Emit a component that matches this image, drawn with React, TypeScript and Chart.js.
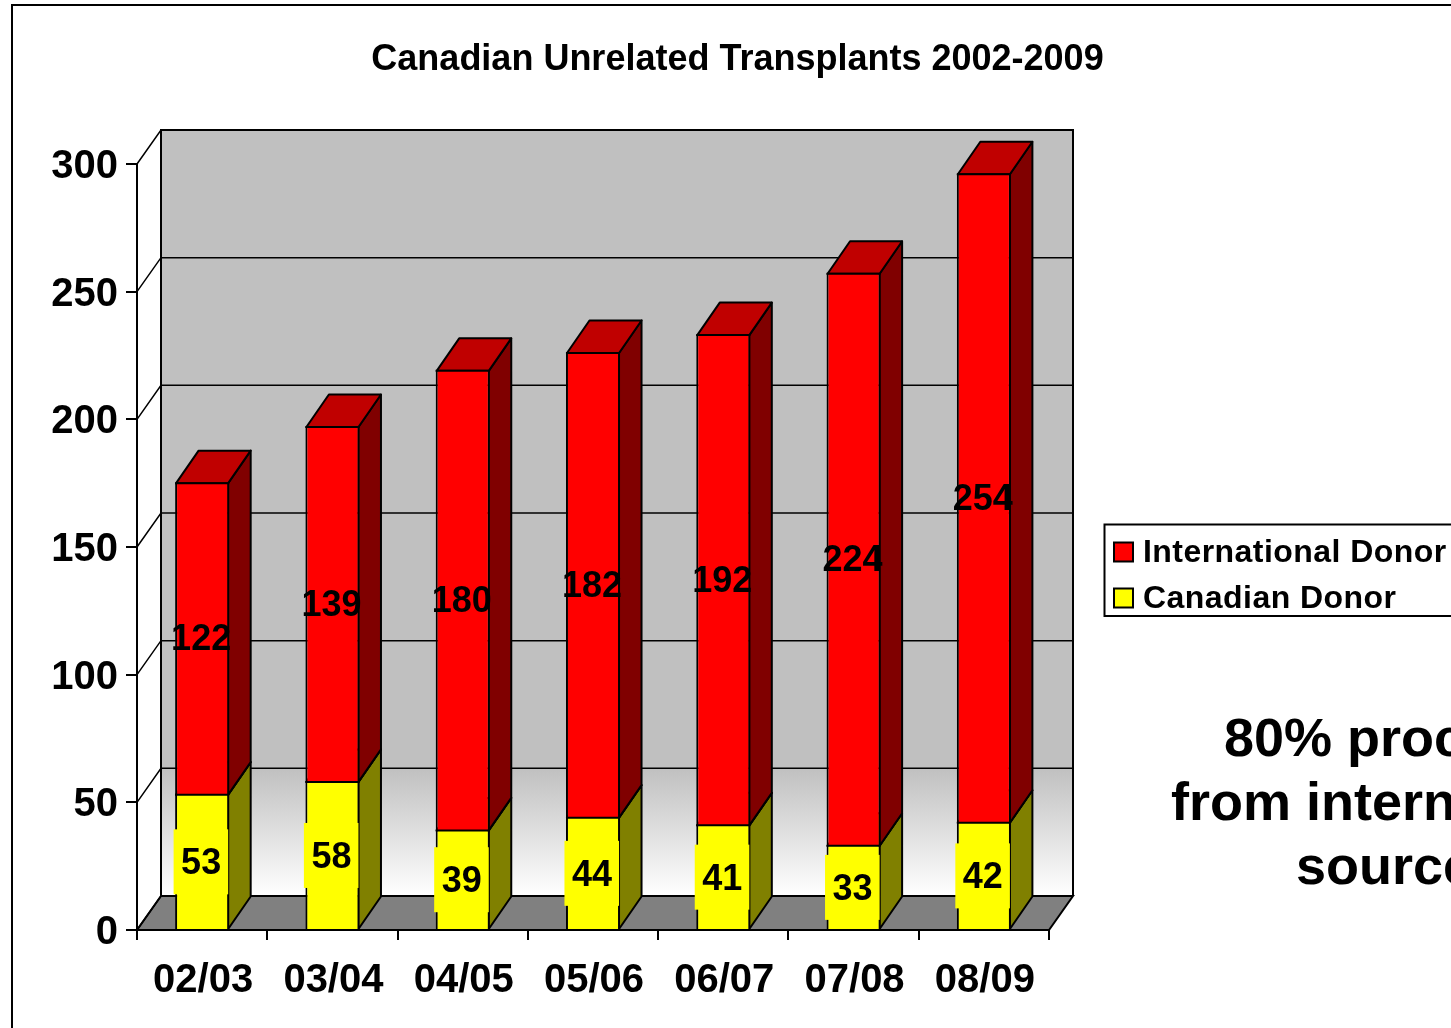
import React, { useEffect, useRef } from "react";
import { Chart, registerables } from "chart.js";

Chart.register(...registerables);

const TITLE = "Canadian Unrelated Transplants 2002-2009";
const seasons = ["02/03", "03/04", "04/05", "05/06", "06/07", "07/08", "08/09"];
const canadianDonor = [53, 58, 39, 44, 41, 33, 42];
const internationalDonor = [122, 139, 180, 182, 192, 224, 254];
const yTicks = { min: 0, max: 300, step: 50 };
const noteLines = [
  { text: "80% proc", x: 1224, y: 741 },
  { text: "from intern", x: 1171, y: 805 },
  { text: "source", x: 1296, y: 869 },
];

const FONT = "'Liberation Sans', Arial, sans-serif";
const DEPTH_X = 24;
const DEPTH_Y = 34;
const BAR_DEPTH_X = 22.5;
const BAR_DEPTH_Y = 32.5;
const BLACK = "#000000";

const shades: Record<string, { front: string; side: string; top: string }> = {
  red: { front: "#FF0000", side: "#800000", top: "#C00000" },
  yellow: { front: "#FFFF00", side: "#808000", top: "#C0C000" },
};

function poly(ctx: CanvasRenderingContext2D, pts: number[][], fill: string | CanvasGradient | null, stroke = true, lw = 2) {
  ctx.beginPath();
  pts.forEach((p, i) => (i ? ctx.lineTo(p[0], p[1]) : ctx.moveTo(p[0], p[1])));
  ctx.closePath();
  if (fill) {
    ctx.fillStyle = fill as any;
    ctx.fill();
  }
  if (stroke) {
    ctx.strokeStyle = BLACK;
    ctx.lineWidth = lw;
    ctx.stroke();
  }
}

const scene3d = {
  id: "scene3d",
  beforeLayout(chart: any) {
    const legend = chart.legend;
    if (legend && !legend.__patched) {
      legend.__patched = true;
      const fit = legend.fit;
      legend.fit = function () {
        fit.call(this);
        this.width = 402;
      };
      const draw = legend.draw;
      legend.draw = function () {
        const ctx = chart.ctx;
        const ft = ctx.fillText;
        ctx.letterSpacing = "0.45px";
        ctx.fillText = (t: string, x: number, y: number, m?: number) =>
          m === undefined ? ft.call(ctx, t, x - 6, y + 1) : ft.call(ctx, t, x - 6, y + 1, m);
        draw.call(this);
        delete ctx.fillText;
        ctx.letterSpacing = "0px";
      };
    }
  },
  afterLayout(chart: any) {
    chart.legend.left = 1100;
    chart.legend.top = 522;
    chart.scales.y.getLabelItems(chart.chartArea).forEach((it: any) => {
      it.options.translation[1] += 3;
    });
    chart.scales.x.getLabelItems(chart.chartArea).forEach((it: any) => {
      it.options.translation[0] += 1;
    });
  },
  beforeDraw(chart: any) {
    const { ctx, chartArea: a, scales } = chart;
    const W = chart.width;
    const H = chart.height;
    ctx.save();
    ctx.fillStyle = "#FFFFFF";
    ctx.fillRect(0, 0, W, H);

    // Outer frame, running off the right and bottom edges
    ctx.strokeStyle = BLACK;
    ctx.lineWidth = 2;
    ctx.beginPath();
    ctx.moveTo(12, H + 2);
    ctx.lineTo(12, 5);
    ctx.lineTo(W + 2, 5);
    ctx.stroke();

    // Legend frame
    ctx.beginPath();
    ctx.moveTo(W + 2, 524.5);
    ctx.lineTo(1104.5, 524.5);
    ctx.lineTo(1104.5, 616);
    ctx.lineTo(W + 2, 616);
    ctx.stroke();

    const y = scales.y;
    const backL = a.left + DEPTH_X;
    const backR = a.right + DEPTH_X;
    const backT = a.top - DEPTH_Y;
    const backB = a.bottom - DEPTH_Y;

    // Back wall
    const firstStep = y.getPixelForValue(yTicks.step) - DEPTH_Y;
    const grad = ctx.createLinearGradient(0, firstStep, 0, backB);
    grad.addColorStop(0, "#C0C0C0");
    grad.addColorStop(1, "#FFFFFF");
    ctx.fillStyle = "#C0C0C0";
    ctx.fillRect(backL, backT, backR - backL, firstStep - backT);
    ctx.fillStyle = grad;
    ctx.fillRect(backL, firstStep, backR - backL, backB - firstStep);

    // Floor
    poly(ctx, [[a.left, a.bottom], [a.right, a.bottom], [backR, backB], [backL, backB]], "#808080");

    // Gridlines on both walls
    ctx.strokeStyle = BLACK;
    ctx.lineWidth = 1.5;
    y.ticks.forEach((t: any) => {
      const py = y.getPixelForValue(t.value);
      ctx.beginPath();
      ctx.moveTo(a.left, py);
      ctx.lineTo(backL, py - DEPTH_Y);
      ctx.lineTo(backR, py - DEPTH_Y);
      ctx.stroke();
    });
    // Wall outline
    ctx.lineWidth = 2;
    ctx.beginPath();
    ctx.moveTo(backL, backB);
    ctx.lineTo(backL, backT);
    ctx.lineTo(backR, backT);
    ctx.lineTo(backR, backB);
    ctx.stroke();
    ctx.restore();
  },
  beforeDatasetsDraw(chart: any) {
    const { ctx } = chart;
    ctx.save();
    ctx.lineJoin = "round";
    chart.data.datasets.forEach((ds: any, i: number) => {
      const c = shades[ds.shade];
      chart.getDatasetMeta(i).data.forEach((b: any) => {
        const l = b.x - b.width / 2 + 1;
        const r = b.x + b.width / 2 - 1;
        const t = b.y;
        poly(ctx, [[r, t], [r + BAR_DEPTH_X, t - BAR_DEPTH_Y], [r + BAR_DEPTH_X, b.base - BAR_DEPTH_Y], [r, b.base]], c.side);
        poly(ctx, [[l, t], [r, t], [r + BAR_DEPTH_X, t - BAR_DEPTH_Y], [l + BAR_DEPTH_X, t - BAR_DEPTH_Y]], c.top);
      });
    });
    ctx.restore();
  },
  afterDatasetsDraw(chart: any) {
    const { ctx } = chart;
    ctx.save();
    // Top edge of each front face, centred on the value
    ctx.strokeStyle = BLACK;
    ctx.lineWidth = 2;
    chart.data.datasets.forEach((_ds: any, i: number) => {
      chart.getDatasetMeta(i).data.forEach((b: any) => {
        ctx.beginPath();
        ctx.moveTo(b.x - b.width / 2, b.y);
        ctx.lineTo(b.x + b.width / 2, b.y);
        ctx.stroke();
      });
    });
    ctx.textAlign = "center";
    ctx.textBaseline = "middle";
    ctx.font = `bold 36px ${FONT}`;
    chart.data.datasets.forEach((ds: any, i: number) => {
      chart.getDatasetMeta(i).data.forEach((b: any, j: number) => {
        const mid = (b.y + b.base) / 2;
        const cx = b.x - 1;
        const isYellow = ds.shade === "yellow";
        if (isYellow) {
          ctx.fillStyle = shades.yellow.front;
          ctx.fillRect(b.x - b.width / 2 - 1.5, mid - 32.5, b.width + 0.5, 65);
        }
        ctx.fillStyle = BLACK;
        ctx.fillText(String(ds.data[j]), cx, mid + (isYellow ? 2.5 : 1.5));
      });
    });
    ctx.restore();
  },
  afterDraw(chart: any) {
    const { ctx } = chart;
    ctx.save();
    ctx.fillStyle = BLACK;
    ctx.textAlign = "left";
    ctx.textBaseline = "middle";
    ctx.font = `bold 54px ${FONT}`;
    noteLines.forEach((n) => ctx.fillText(n.text, n.x, n.y));
    ctx.restore();
  },
};

export default function App() {
  const ref = useRef<HTMLCanvasElement | null>(null);
  useEffect(() => {
    if (!ref.current) return;
    const barBorder = { top: 0, left: 2, right: 2, bottom: 0 };
    const chart = new Chart(ref.current, {
      type: "bar",
      plugins: [scene3d as any],
      data: {
        labels: seasons,
        datasets: [
          {
            label: "Canadian Donor",
            data: canadianDonor,
            shade: "yellow",
            backgroundColor: shades.yellow.front,
            borderColor: BLACK,
            borderWidth: barBorder,
            barPercentage: 0.415,
            categoryPercentage: 1,
          },
          {
            label: "International Donor",
            data: internationalDonor,
            shade: "red",
            backgroundColor: shades.red.front,
            borderColor: BLACK,
            borderWidth: barBorder,
            barPercentage: 0.415,
            categoryPercentage: 1,
          },
        ] as any,
      },
      options: {
        responsive: false,
        animation: false,
        layout: { padding: { left: 24, right: 0, top: 0, bottom: 0 } },
        plugins: {
          tooltip: { enabled: false },
          title: {
            display: true,
            text: TITLE,
            color: BLACK,
            font: { family: FONT, size: 36, weight: "bold", lineHeight: 1.2 },
            padding: { top: 38.4, bottom: 82.4 },
          },
          legend: {
            position: "right",
            align: "start",
            labels: {
              color: BLACK,
              boxWidth: 19,
              boxHeight: 19,
              padding: 14,
              font: { family: FONT, size: 32, weight: "bold" },
              sort: (a: any, b: any) => b.datasetIndex - a.datasetIndex,
              generateLabels: (chart: any) =>
                Chart.defaults.plugins.legend.labels.generateLabels(chart).map((it: any) => ({ ...it, lineWidth: 2 })),
            },
          },
        },
        scales: {
          x: {
            stacked: true,
            afterFit: (s: any) => {
              s.height = 98;
            },
            grid: { drawOnChartArea: false, offset: true, color: BLACK, lineWidth: 2, tickLength: 10 },
            border: { display: true, color: BLACK, width: 2 },
            ticks: {
              color: BLACK,
              autoSkip: false,
              maxRotation: 0,
              padding: 17,
              font: { family: FONT, size: 40, weight: "bold" },
            },
          },
          y: {
            stacked: true,
            min: yTicks.min,
            max: yTicks.max,
            afterFit: (s: any) => {
              s.width = 113;
            },
            grid: { drawOnChartArea: false, color: BLACK, lineWidth: 2, tickLength: 11 },
            border: { display: true, color: BLACK, width: 2 },
            ticks: {
              color: BLACK,
              stepSize: yTicks.step,
              padding: 8,
              font: { family: FONT, size: 40, weight: "bold" },
            },
          },
        },
      } as any,
    });
    return () => chart.destroy();
  }, []);
  return (
    <div style={{ position: "fixed", left: 0, top: 0, width: 1451, height: 1028, overflow: "hidden", background: "#fff" }}>
      <canvas ref={ref} width={1451} height={1028} style={{ display: "block" }} />
    </div>
  );
}
